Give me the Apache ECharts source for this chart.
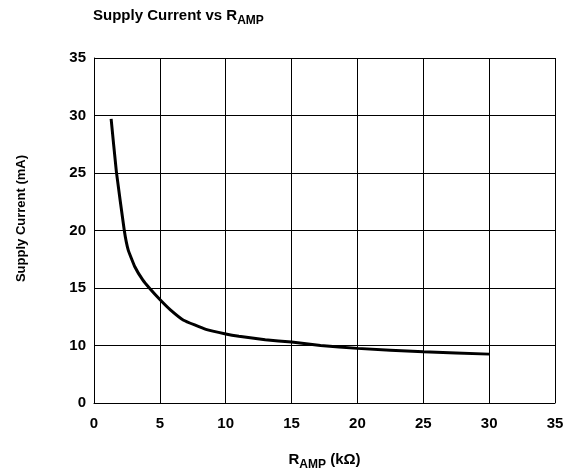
<!DOCTYPE html>
<html>
<head>
<meta charset="utf-8">
<script src="https://cdn.jsdelivr.net/npm/echarts@6/dist/echarts.min.js"></script>
<style>html,body{margin:0;padding:0;background:#fff}#c{width:574px;height:475px}</style>
</head>
<body>
<div id="c"></div>
<script>
const rampK = [1.3, 1.7, 2.3, 2.6, 3.1, 3.7, 4.2, 5, 5.8, 6.8, 8.5, 10, 11, 13, 15, 17.2, 20, 25, 30];
const currentMA = [29.7, 25.1, 20.0, 18.3, 16.85, 15.7, 15.0, 14.0, 13.1, 12.2, 11.4, 11.0, 10.8, 10.5, 10.3, 10.0, 9.75, 9.45, 9.25];
const xTicks = [0, 5, 10, 15, 20, 25, 30, 35];
const yTicks = [5, 10, 15, 20, 25, 30, 35];
const yTickLabels = ['0', '10', '15', '20', '25', '30', '35'];

const font = 'Liberation Sans, Arial, Helvetica, sans-serif';
const richSub = {
  a: {fontFamily: font, fontWeight: 'bold', fontSize: 15, color: '#000', lineHeight: 20, verticalAlign: 'bottom'},
  s: {fontFamily: font, fontWeight: 'bold', fontSize: 12, color: '#000', lineHeight: 20, verticalAlign: 'bottom', padding: [0, 0, -4, 0]}
};
const chart = echarts.init(document.getElementById('c'), null, {renderer: 'canvas'});
chart.setOption({
  animation: false,
  backgroundColor: '#fff',
  title: {
    text: '{a|Supply Current vs R}{s|AMP}',
    left: 88, top: -2,
    textStyle: {rich: richSub}
  },
  grid: {left: 94, right: 19, top: 58, bottom: 72, containLabel: false, outerBoundsMode: 'none'},
  xAxis: {
    type: 'value', min: 0, max: 35, interval: 5,
    name: '{a|R}{s|AMP}{a| (kΩ)}', nameLocation: 'middle', nameGap: 44,
    nameTextStyle: {rich: richSub},
    axisLine: {lineStyle: {color: '#000', width: 1}},
    axisTick: {show: false},
    axisLabel: {fontFamily: font, fontWeight: 'bold', fontSize: 15, color: '#000', margin: 13,
      formatter: v => xTicks.includes(v) ? String(v) : ''},
    splitLine: {show: true, lineStyle: {color: '#000', width: 1}}
  },
  yAxis: {
    type: 'value', min: 5, max: 35, interval: 5,
    name: 'Supply Current (mA)', nameLocation: 'middle', nameGap: 66,
    nameTextStyle: {fontFamily: font, fontWeight: 'bold', fontSize: 13, color: '#000', padding: [0, 0, 0, 24]},
    axisLine: {show: true, lineStyle: {color: '#000', width: 1}},
    axisTick: {show: false},
    axisLabel: {fontFamily: font, fontWeight: 'bold', fontSize: 15, color: '#000', margin: 8,
      formatter: v => { const i = yTicks.indexOf(v); return i >= 0 ? yTickLabels[i] : ''; }},
    splitLine: {show: true, lineStyle: {color: '#000', width: 1}}
  },
  series: [{
    type: 'line',
    data: rampK.map((x, i) => [x, currentMA[i]]),
    showSymbol: false,
    smooth: 0.1,
    lineStyle: {color: '#000', width: 3},
    z: 5
  }]
});
</script>
</body>
</html>
